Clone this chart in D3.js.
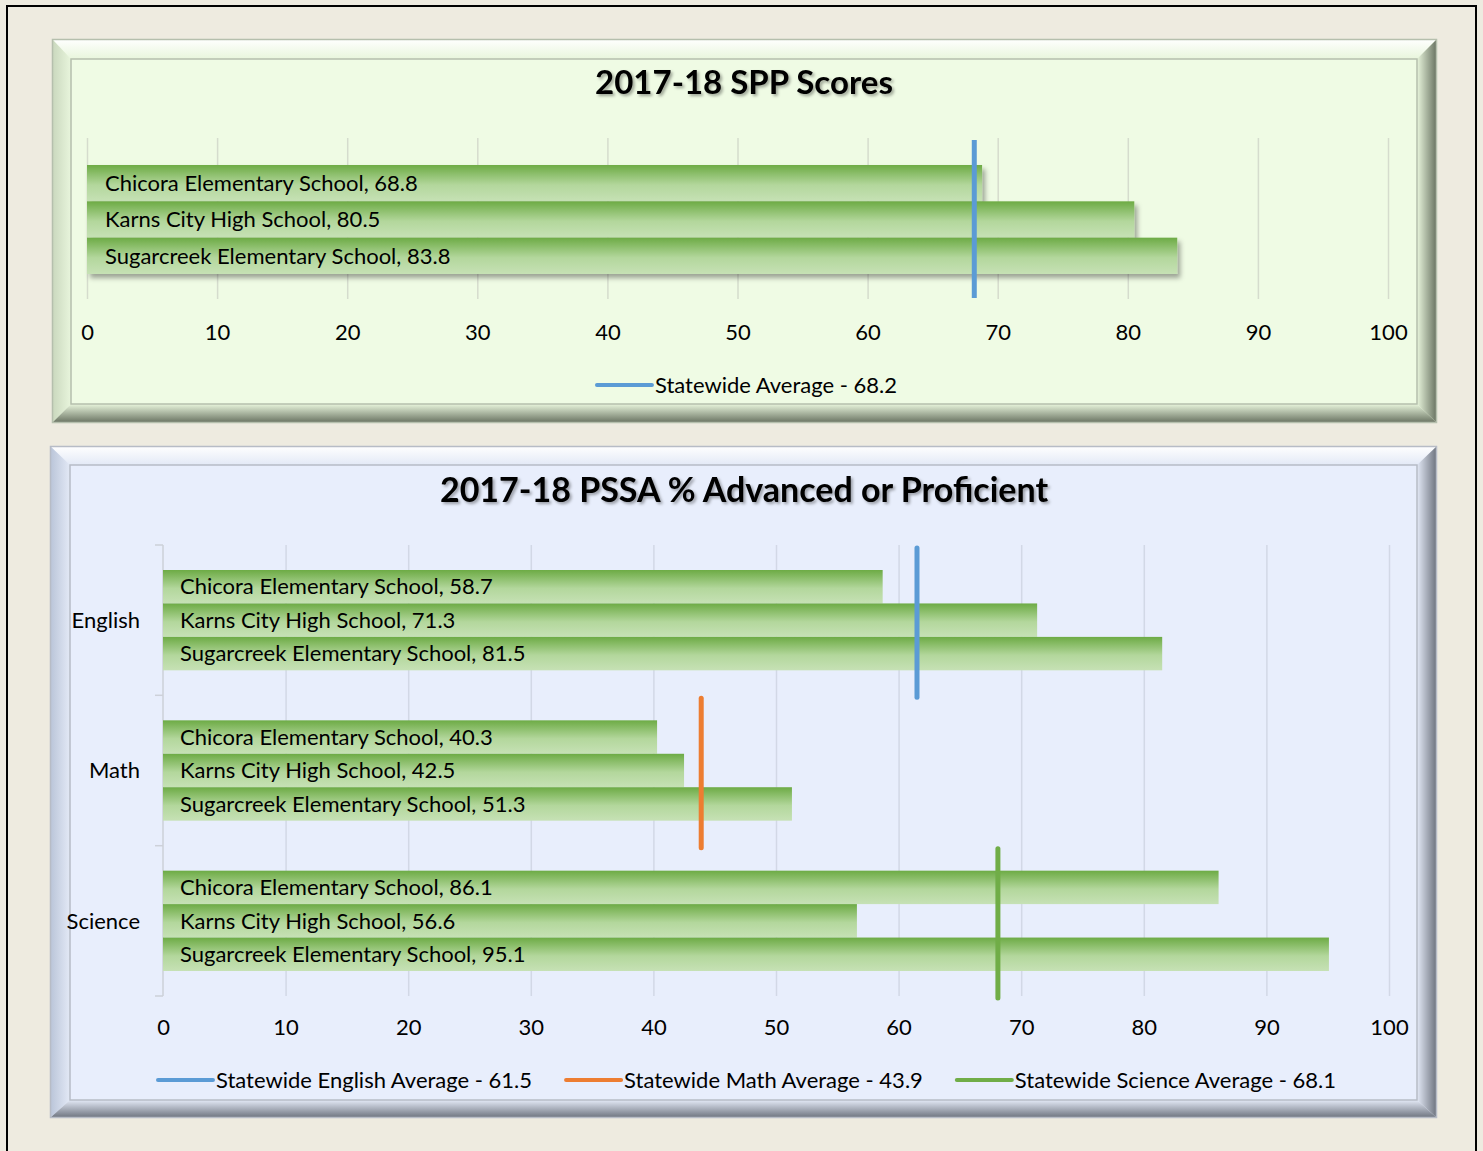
<!DOCTYPE html>
<html>
<head>
<meta charset="utf-8">
<script src="https://cdn.jsdelivr.net/npm/d3@7"></script>
<style>
  body { margin: 0; background: #eeebe0; }
  svg { display: block; font-family: Lato, "Open Sans", sans-serif; }
</style>
</head>
<body>
<script>
// data
var schools = ["Chicora Elementary School", "Karns City High School", "Sugarcreek Elementary School"];
var sppScores = [68.8, 80.5, 83.8];
var sppStateAvg = 68.2;
var subjects = ["English", "Math", "Science"];
var englishScores = [58.7, 71.3, 81.5];
var mathScores = [40.3, 42.5, 51.3];
var scienceScores = [86.1, 56.6, 95.1];
var pssaStateAvg = [61.5, 43.9, 68.1];
var xTicks = [0, 10, 20, 30, 40, 50, 60, 70, 80, 90, 100];

var pssaScores = [englishScores, mathScores, scienceScores];
var avgColors = ["#5b9bd5", "#ed7d31", "#70ad47"];

var w = 1483, h = 1151;
var fs = 22; // label font size

var svg = d3.select("body").append("svg")
    .attr("width", w)
    .attr("height", h);

var defs = svg.append("defs");

// bar gradient: darker green at top, pale at bottom
var barGrad = defs.append("linearGradient")
    .attr("id", "barGrad")
    .attr("x1", 0).attr("y1", 0).attr("x2", 0).attr("y2", 1);
barGrad.append("stop").attr("offset", "0%").attr("stop-color", "#6dab45");
barGrad.append("stop").attr("offset", "55%").attr("stop-color", "#b3d79c");
barGrad.append("stop").attr("offset", "100%").attr("stop-color", "#c6e1b5");

var barShadow = defs.append("filter").attr("id", "barShadow")
    .attr("x", "-5%").attr("y", "-20%").attr("width", "110%").attr("height", "160%");
barShadow.append("feDropShadow")
    .attr("dx", 3).attr("dy", 4).attr("stdDeviation", 2.5)
    .attr("flood-color", "#000").attr("flood-opacity", 0.35);

var titleShadow = defs.append("filter").attr("id", "titleShadow")
    .attr("x", "-5%").attr("y", "-20%").attr("width", "110%").attr("height", "160%");
titleShadow.append("feDropShadow")
    .attr("dx", 2).attr("dy", 2).attr("stdDeviation", 1.5)
    .attr("flood-color", "#000").attr("flood-opacity", 0.35);

function sideGrad(id, x1, y1, x2, y2, c1, c2) {
  var g = defs.append("linearGradient").attr("id", id)
      .attr("x1", x1).attr("y1", y1).attr("x2", x2).attr("y2", y2);
  g.append("stop").attr("offset", "0%").attr("stop-color", c1);
  g.append("stop").attr("offset", "100%").attr("stop-color", c2);
}

// bevelled frame like the office "picture frame" border
function drawFrame(o, i, fill, tone, name) {
  sideGrad(name + "T", 0, 0, 0, 1, "#ffffff", tone.light);
  sideGrad(name + "L", 0, 0, 1, 0, tone.left, tone.light);
  sideGrad(name + "R", 0, 0, 1, 0, tone.light, tone.dark);
  sideGrad(name + "B", 0, 0, 0, 1, tone.light, tone.dark);
  var g = svg.append("g");
  g.append("rect")
      .attr("x", o.x0).attr("y", o.y0)
      .attr("width", o.x1 - o.x0).attr("height", o.y1 - o.y0)
      .attr("fill", fill);
  var sides = [
    [name + "T", [[o.x0, o.y0], [o.x1, o.y0], [i.x1, i.y0], [i.x0, i.y0]]],
    [name + "L", [[o.x0, o.y0], [i.x0, i.y0], [i.x0, i.y1], [o.x0, o.y1]]],
    [name + "R", [[o.x1, o.y0], [o.x1, o.y1], [i.x1, i.y1], [i.x1, i.y0]]],
    [name + "B", [[o.x0, o.y1], [i.x0, i.y1], [i.x1, i.y1], [o.x1, o.y1]]]
  ];
  g.selectAll("polygon").data(sides).enter().append("polygon")
      .attr("points", function(d) { return d[1].map(function(p) { return p.join(","); }).join(" "); })
      .attr("fill", function(d) { return "url(#" + d[0] + ")"; });
  g.append("rect")
      .attr("x", o.x0 + 0.5).attr("y", o.y0 + 0.5)
      .attr("width", o.x1 - o.x0 - 1).attr("height", o.y1 - o.y0 - 1)
      .attr("fill", "none").attr("stroke", tone.edge).attr("stroke-width", 1.5);
  g.append("rect")
      .attr("x", i.x0).attr("y", i.y0)
      .attr("width", i.x1 - i.x0).attr("height", i.y1 - i.y0)
      .attr("fill", "none").attr("stroke", tone.edge).attr("stroke-width", 1.5);
}

// outer black border of the page
svg.append("rect")
    .attr("x", 7).attr("y", 6)
    .attr("width", 1469).attr("height", 1200)
    .attr("fill", "#eeebe0")
    .attr("stroke", "#000").attr("stroke-width", 2);

drawFrame({x0: 52, y0: 39, x1: 1437, y1: 423}, {x0: 71, y0: 59, x1: 1417, y1: 404},
          "#effbe4", {light: "#e8f5dc", left: "#c9d7bd", dark: "#66705f", edge: "#b5bfad"}, "f1");
drawFrame({x0: 50, y0: 446, x1: 1437, y1: 1118}, {x0: 70, y0: 465, x1: 1417, y1: 1100},
          "#e8eefc", {light: "#e3e9f6", left: "#b9c4d8", dark: "#6b717c", edge: "#b7bcc6"}, "f2");

function addTitle(text, y, size) {
  svg.append("text")
      .attr("x", 744).attr("y", y)
      .attr("text-anchor", "middle")
      .attr("font-size", size).attr("font-weight", "bold")
      .attr("fill", "#000")
      .attr("filter", "url(#titleShadow)")
      .text(text);
}

function addLegend(items, cx, y) {
  var lg = svg.append("g");
  var gap = 34, lineLen = 55, pad = 3;
  var nodes = items.map(function(it) {
    var g = lg.append("g");
    g.append("line")
        .attr("x1", 0).attr("x2", lineLen)
        .attr("y1", 0).attr("y2", 0)
        .attr("stroke", it.color).attr("stroke-width", 4)
        .attr("stroke-linecap", "round");
    var t = g.append("text")
        .attr("x", lineLen + pad).attr("y", 0)
        .attr("dy", "0.35em")
        .attr("font-size", fs).attr("fill", "#000")
        .text(it.label);
    return {g: g, w: lineLen + pad + t.node().getComputedTextLength()};
  });
  var total = d3.sum(nodes, function(n) { return n.w; }) + gap * (nodes.length - 1);
  var x = cx - total / 2;
  nodes.forEach(function(n) {
    n.g.attr("transform", "translate(" + x + "," + y + ")");
    x += n.w + gap;
  });
}

/*----------------------- chart 1: SPP scores -----------------------*/
addTitle("2017-18 SPP Scores", 94, 33);

var x1 = d3.scaleLinear().domain([0, 100]).range([87, 1388]);
var y1 = d3.scaleBand().domain(schools).range([165, 274]);

// gridlines
svg.append("g")
    .attr("transform", "translate(0,299)")
    .call(d3.axisBottom(x1).tickValues(xTicks).tickSize(-161).tickFormat(""))
    .call(function(g) {
      g.select(".domain").remove();
      g.selectAll("line").attr("stroke", "#d5dccd").attr("stroke-width", 1.5);
    });

// tick labels
svg.append("g")
    .attr("transform", "translate(0,321)")
    .call(d3.axisBottom(x1).tickValues(xTicks).tickSize(0))
    .call(function(g) {
      g.select(".domain").remove();
      g.selectAll("text").attr("font-size", fs).attr("fill", "#000")
          .attr("font-family", "Lato, sans-serif");
    });

var spp = svg.append("g");
spp.selectAll("rect")
    .data(sppScores)
    .enter().append("rect")
    .attr("x", x1(0))
    .attr("y", function(d, i) { return y1(schools[i]); })
    .attr("width", function(d) { return x1(d) - x1(0); })
    .attr("height", y1.bandwidth())
    .attr("fill", "url(#barGrad)")
    .attr("filter", "url(#barShadow)");
spp.selectAll("text")
    .data(sppScores)
    .enter().append("text")
    .attr("x", x1(0) + 18)
    .attr("y", function(d, i) { return y1(schools[i]) + y1.bandwidth() / 2; })
    .attr("dy", "0.35em")
    .attr("font-size", fs).attr("fill", "#000")
    .text(function(d, i) { return schools[i] + ", " + d; });

svg.append("line")
    .attr("x1", x1(sppStateAvg)).attr("x2", x1(sppStateAvg))
    .attr("y1", 140).attr("y2", 298)
    .attr("stroke", avgColors[0]).attr("stroke-width", 5);

addLegend([{label: "Statewide Average - " + sppStateAvg, color: avgColors[0]}], 747, 385);

/*------------------ chart 2: PSSA % advanced/proficient ------------------*/
addTitle("2017-18 PSSA % Advanced or Proficient", 502, 34);

var x2 = d3.scaleLinear().domain([0, 100]).range([163, 1389]);
var y2 = d3.scaleBand().domain(subjects).range([545, 996]);
var yInner = d3.scaleBand().domain(schools).range([25, y2.bandwidth() - 25]);

svg.append("g")
    .attr("transform", "translate(0,996)")
    .call(d3.axisBottom(x2).tickValues(xTicks.slice(1)).tickSize(-451).tickFormat(""))
    .call(function(g) {
      g.select(".domain").remove();
      g.selectAll("line").attr("stroke", "#d2d8e6").attr("stroke-width", 1.5);
    });

svg.append("g")
    .attr("transform", "translate(0,1016)")
    .call(d3.axisBottom(x2).tickValues(xTicks).tickSize(0))
    .call(function(g) {
      g.select(".domain").remove();
      g.selectAll("text").attr("font-size", fs).attr("fill", "#000")
          .attr("font-family", "Lato, sans-serif");
    });

// category axis with ticks at band edges
var catAxis = svg.append("g");
catAxis.append("line")
    .attr("x1", x2(0)).attr("x2", x2(0))
    .attr("y1", 545).attr("y2", 996)
    .attr("stroke", "#cdd1d9").attr("stroke-width", 1.5);
catAxis.selectAll("line.tick")
    .data([545, 695.3, 845.7, 996])
    .enter().append("line")
    .attr("class", "tick")
    .attr("x1", x2(0) - 8).attr("x2", x2(0))
    .attr("y1", function(d) { return d; }).attr("y2", function(d) { return d; })
    .attr("stroke", "#cdd1d9").attr("stroke-width", 1.5);
catAxis.selectAll("text")
    .data(subjects)
    .enter().append("text")
    .attr("x", 140)
    .attr("y", function(d) { return y2(d) + y2.bandwidth() / 2; })
    .attr("dy", "0.35em")
    .attr("text-anchor", "end")
    .attr("font-size", fs).attr("fill", "#000")
    .text(function(d) { return d; });

var groups = svg.selectAll("g.subject")
    .data(subjects)
    .enter().append("g")
    .attr("class", "subject")
    .attr("transform", function(d) { return "translate(0," + y2(d) + ")"; });

groups.selectAll("rect")
    .data(function(d, i) { return pssaScores[i]; })
    .enter().append("rect")
    .attr("x", x2(0))
    .attr("y", function(d, j) { return yInner(schools[j]); })
    .attr("width", function(d) { return x2(d) - x2(0); })
    .attr("height", yInner.bandwidth())
    .attr("fill", "url(#barGrad)");

groups.selectAll("text")
    .data(function(d, i) { return pssaScores[i]; })
    .enter().append("text")
    .attr("x", x2(0) + 17)
    .attr("y", function(d, j) { return yInner(schools[j]) + yInner.bandwidth() / 2; })
    .attr("dy", "0.35em")
    .attr("font-size", fs).attr("fill", "#000")
    .text(function(d, j) { return schools[j] + ", " + d; });

groups.append("line")
    .attr("x1", function(d, i) { return x2(pssaStateAvg[i]); })
    .attr("x2", function(d, i) { return x2(pssaStateAvg[i]); })
    .attr("y1", 3).attr("y2", y2.bandwidth() + 2)
    .attr("stroke", function(d, i) { return avgColors[i]; })
    .attr("stroke-width", 5)
    .attr("stroke-linecap", "round");

addLegend(subjects.map(function(s, i) {
  return {label: "Statewide " + s + " Average - " + pssaStateAvg[i], color: avgColors[i]};
}), 747, 1080);
</script>
</body>
</html>
